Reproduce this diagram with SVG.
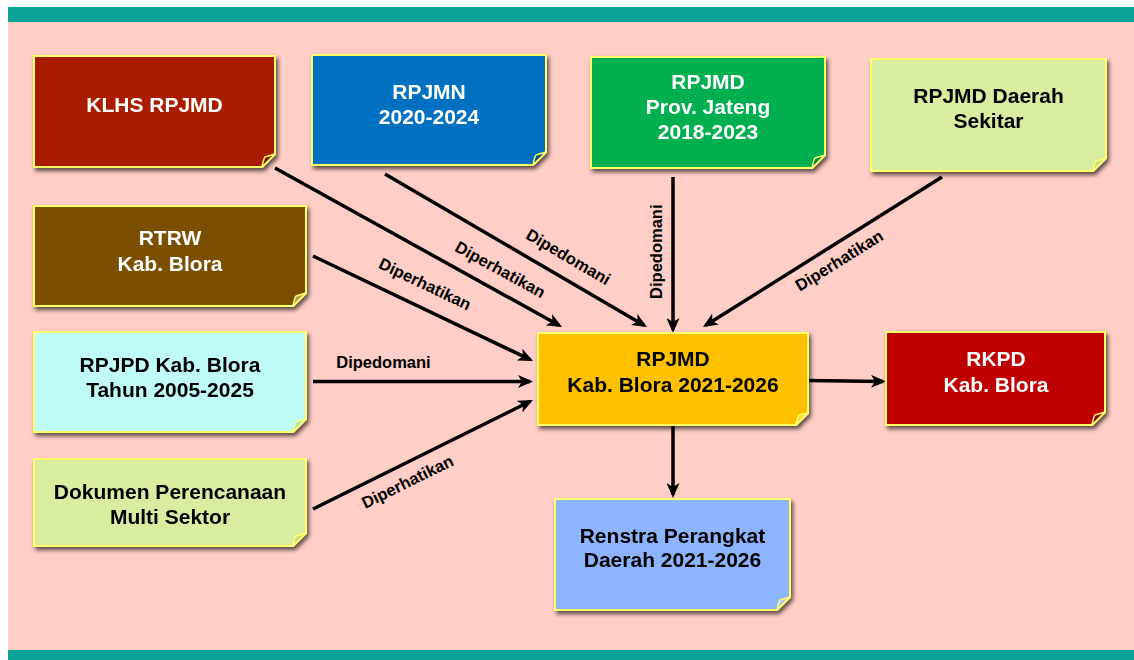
<svg xmlns="http://www.w3.org/2000/svg" width="1134" height="660" viewBox="0 0 1134 660">
<style>
.nt{font-family:"Liberation Sans",Arial,sans-serif;font-weight:bold;font-size:21px;text-anchor:middle}
.w{fill:#FFFFFF}.k{fill:#000000}
.lb{font-family:"Liberation Sans",Arial,sans-serif;font-weight:bold;font-size:16.5px;fill:#000;text-anchor:middle}
.body{stroke:#FFFF66;stroke-width:2}
.flap{stroke:#FFFF66;stroke-width:1.5;stroke-linejoin:round}
.cn{stroke:#000;stroke-width:3.5;fill:none;marker-end:url(#ah)}
</style>
<defs>
<filter id="sh" x="-10%" y="-10%" width="125%" height="130%">
<feDropShadow dx="2" dy="3" stdDeviation="2.2" flood-color="#000" flood-opacity="0.65"/>
</filter>
<marker id="ah" markerUnits="userSpaceOnUse" markerWidth="15" markerHeight="13" refX="12" refY="6.5" orient="auto" viewBox="0 0 15 13">
<path d="M0,0 L15,6.5 L0,13 L4,6.5 Z" fill="#000"/>
</marker>
</defs>
<rect x="8" y="7" width="1126" height="653" fill="#FFCEC6"/>
<rect x="8" y="7" width="1126" height="15" fill="#0BA597"/>
<rect x="8" y="650" width="1126" height="10" fill="#0BA597"/>

<g id="connectors">
<line class="cn" x1="275" y1="168" x2="559.4" y2="325.5"/>
<line class="cn" x1="385" y1="174" x2="644.4" y2="325.5"/>
<line class="cn" x1="313" y1="256" x2="530.3" y2="359.7"/>
<line class="cn" x1="313" y1="381.5" x2="530" y2="381.5"/>
<line class="cn" x1="313" y1="509" x2="530.3" y2="401.3"/>
<line class="cn" x1="673" y1="177" x2="673" y2="330"/>
<line class="cn" x1="942" y1="177" x2="705.5" y2="325.4"/>
<line class="cn" x1="808" y1="380.5" x2="883" y2="381.5"/>
<line class="cn" x1="673" y1="425" x2="673" y2="495"/>
<text class="lb" transform="translate(499.5,271) rotate(28.7)" y="4">Diperhatikan</text>
<text class="lb" transform="translate(567.5,258.3) rotate(30.3)" y="4">Dipedomani</text>
<text class="lb" transform="translate(424.3,285.5) rotate(25.5)" y="4">Diperhatikan</text>
<text class="lb" x="383.5" y="368">Dipedomani</text>
<text class="lb" transform="translate(658.3,251.7) rotate(-90)" y="4">Dipedomani</text>
<text class="lb" transform="translate(840,262) rotate(-32)" y="4">Diperhatikan</text>
<text class="lb" transform="translate(408.3,483.3) rotate(-26.3)" y="4">Diperhatikan</text>
</g>

<g id="klhs" filter="url(#sh)">
<path class="body" fill="#AA1E00" d="M34,56 H275 V154 L262,167 H34 Z"/>
<path class="flap" fill="#7A1500" d="M262,167 C263,162 264,158 265,157 L275,154 Z"/>
<text class="nt w" x="154.5" y="112">KLHS RPJMD</text>
</g>
<g id="rpjmn" filter="url(#sh)">
<path class="body" fill="#0070C0" d="M312,55 H546 V152 L533,165 H312 Z"/>
<path class="flap" fill="#00508C" d="M533,165 C534,160 535,156 536,155 L546,152 Z"/>
<text class="nt w" x="429" y="99">RPJMN</text>
<text class="nt w" x="429" y="124">2020-2024</text>
</g>
<g id="jateng" filter="url(#sh)">
<path class="body" fill="#00B050" d="M591,57 H825 V155 L812,168 H591 Z"/>
<path class="flap" fill="#008A3E" d="M812,168 C813,163 814,159 815,158 L825,155 Z"/>
<text class="nt w" x="708" y="89">RPJMD</text>
<text class="nt w" x="708" y="114">Prov. Jateng</text>
<text class="nt w" x="708" y="139">2018-2023</text>
</g>
<g id="sekitar" filter="url(#sh)">
<path class="body" fill="#D8EDA0" d="M871,59 H1106 V158 L1093,171 H871 Z"/>
<path class="flap" fill="#C6DC8C" d="M1093,171 C1094,166 1095,162 1096,161 L1106,158 Z"/>
<text class="nt k" x="988.5" y="103">RPJMD Daerah</text>
<text class="nt k" x="988.5" y="128">Sekitar</text>
</g>
<g id="rtrw" filter="url(#sh)">
<path class="body" fill="#7B4F00" d="M34,206 H306 V293 L293,306 H34 Z"/>
<path class="flap" fill="#B89A60" d="M293,306 C294,301 295,297 296,296 L306,293 Z"/>
<text class="nt w" x="170" y="245">RTRW</text>
<text class="nt w" x="170" y="271">Kab. Blora</text>
</g>
<g id="rpjpd" filter="url(#sh)">
<path class="body" fill="#C0FCF7" d="M34,332 H306 V419 L293,432 H34 Z"/>
<path class="flap" fill="#A6E4DE" d="M293,432 C294,427 295,423 296,422 L306,419 Z"/>
<text class="nt k" x="170" y="372">RPJPD Kab. Blora</text>
<text class="nt k" x="170" y="397">Tahun 2005-2025</text>
</g>
<g id="dokumen" filter="url(#sh)">
<path class="body" fill="#D8EDA0" d="M34,459 H306 V533 L293,546 H34 Z"/>
<path class="flap" fill="#C6DC8C" d="M293,546 C294,541 295,537 296,536 L306,533 Z"/>
<text class="nt k" x="170" y="499">Dokumen Perencanaan</text>
<text class="nt k" x="170" y="524">Multi Sektor</text>
</g>
<g id="rpjmd" filter="url(#sh)">
<path class="body" fill="#FFC000" stroke="#FFFF00" d="M538,333 H808 V413 L796,425 H538 Z"/>
<path class="flap" fill="#FFD84A" d="M796,425 C797,420 798,416 799,415 L808,413 Z"/>
<text class="nt k" x="673" y="366">RPJMD</text>
<text class="nt k" x="673" y="392">Kab. Blora 2021-2026</text>
</g>
<g id="rkpd" filter="url(#sh)">
<path class="body" fill="#C00000" stroke="#FFFF00" d="M886,332 H1105 V412 L1092,425 H886 Z"/>
<path class="flap" fill="#8E0000" d="M1092,425 C1093,420 1094,416 1095,415 L1105,412 Z"/>
<text class="nt w" x="996" y="366">RKPD</text>
<text class="nt w" x="996" y="392">Kab. Blora</text>
</g>
<g id="renstra" filter="url(#sh)">
<path class="body" fill="#8DB4FF" stroke="#F0B400" d="M555,499 H790 V597 L777,610 H555 Z"/>
<path class="flap" fill="#A9C6FF" stroke="#F0B400" d="M777,610 C778,605 779,601 780,600 L790,597 Z"/>
<text class="nt k" x="672.5" y="543">Renstra Perangkat</text>
<text class="nt k" x="672.5" y="567">Daerah 2021-2026</text>
</g>
</svg>
